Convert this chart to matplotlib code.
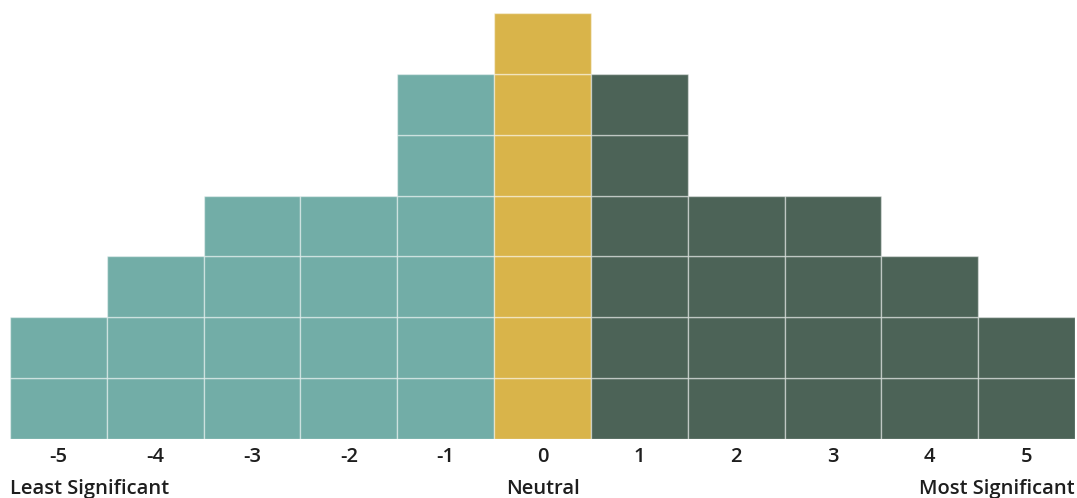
import matplotlib.pyplot as plt
import numpy as np

plt.rcParams['font.family'] = ['Open Sans', 'DejaVu Sans']

scores = [-5, -4, -3, -2, -1, 0, 1, 2, 3, 4, 5]
counts = [2, 3, 4, 4, 6, 7, 6, 4, 4, 3, 2]
end_labels = ['Least Significant', 'Neutral', 'Most Significant']

teal = '#72ada7'
gold = '#d9b44a'
dark = '#4c6357'

fig = plt.figure(figsize=(10.77, 4.98), dpi=100)
ax = fig.add_axes([10 / 1077, 59 / 498, 1065 / 1077, 426 / 498])

for s, c in zip(scores, counts):
    if s < 0:
        col = teal
    elif s == 0:
        col = gold
    else:
        col = dark
    # one block per count, stacked
    ax.bar([s] * c, [1] * c, bottom=np.arange(c), width=1.0, color=col,
           edgecolor=(1, 1, 1, 0.45), linewidth=1.0)

ax.set_xlim(-5.5, 5.5)
ax.set_ylim(0, 7)
ax.set_xticks(scores)
ax.set_xticklabels([str(s) for s in scores], fontsize=14.5, fontweight='semibold',
                   color='#1e1e1e')
ax.tick_params(axis='x', length=0, pad=6)
ax.set_yticks([])
for sp in ax.spines.values():
    sp.set_visible(False)

ty = -0.82
for x, lab, ha in zip([-5.5, 0, 5.5], end_labels, ['left', 'center', 'right']):
    ax.text(x, ty, lab, ha=ha, va='center', fontsize=14.5, fontweight='semibold',
            color='#1e1e1e')

plt.savefig('out.png', dpi=100)
